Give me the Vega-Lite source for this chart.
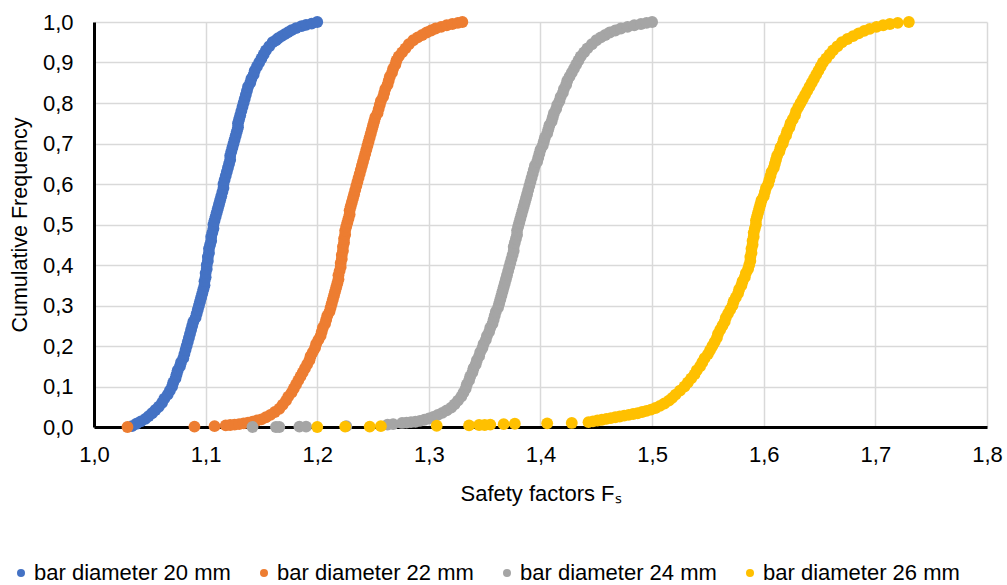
{
"$schema":"https://vega.github.io/schema/vega-lite/v6.json",
"autosize":"none",
"width":893,"height":405,
"padding":{"left":94,"top":22,"right":20,"bottom":158},
"background":"white",
"config":{"view":{"stroke":null},"font":"Liberation Sans"},
"data":{"values":[
{"s":20,"x":1.034,"y":0.002},{"s":20,"x":1.038,"y":0.008},{"s":20,"x":1.042,"y":0.014},{"s":20,"x":1.046,"y":0.02},{"s":20,"x":1.049,"y":0.027},{"s":20,"x":1.052,"y":0.034},{"s":20,"x":1.055,"y":0.042},{"s":20,"x":1.058,"y":0.05},{"s":20,"x":1.061,"y":0.06},{"s":20,"x":1.063,"y":0.07},{"s":20,"x":1.066,"y":0.08},{"s":20,"x":1.068,"y":0.09},{"s":20,"x":1.07,"y":0.1},{"s":20,"x":1.071,"y":0.11},{"s":20,"x":1.073,"y":0.12},{"s":20,"x":1.074,"y":0.13},{"s":20,"x":1.075,"y":0.14},{"s":20,"x":1.077,"y":0.15},{"s":20,"x":1.078,"y":0.16},{"s":20,"x":1.08,"y":0.17},{"s":20,"x":1.081,"y":0.18},{"s":20,"x":1.082,"y":0.19},{"s":20,"x":1.083,"y":0.2},{"s":20,"x":1.084,"y":0.21},{"s":20,"x":1.085,"y":0.22},{"s":20,"x":1.086,"y":0.23},{"s":20,"x":1.087,"y":0.24},{"s":20,"x":1.088,"y":0.25},{"s":20,"x":1.089,"y":0.26},{"s":20,"x":1.091,"y":0.27},{"s":20,"x":1.092,"y":0.28},{"s":20,"x":1.093,"y":0.29},{"s":20,"x":1.094,"y":0.3},{"s":20,"x":1.095,"y":0.31},{"s":20,"x":1.096,"y":0.32},{"s":20,"x":1.097,"y":0.33},{"s":20,"x":1.098,"y":0.34},{"s":20,"x":1.099,"y":0.35},{"s":20,"x":1.099,"y":0.36},{"s":20,"x":1.1,"y":0.37},{"s":20,"x":1.1,"y":0.38},{"s":20,"x":1.101,"y":0.39},{"s":20,"x":1.101,"y":0.4},{"s":20,"x":1.102,"y":0.41},{"s":20,"x":1.102,"y":0.42},{"s":20,"x":1.103,"y":0.43},{"s":20,"x":1.103,"y":0.44},{"s":20,"x":1.104,"y":0.45},{"s":20,"x":1.105,"y":0.46},{"s":20,"x":1.105,"y":0.47},{"s":20,"x":1.106,"y":0.48},{"s":20,"x":1.107,"y":0.49},{"s":20,"x":1.107,"y":0.5},{"s":20,"x":1.108,"y":0.51},{"s":20,"x":1.109,"y":0.52},{"s":20,"x":1.11,"y":0.53},{"s":20,"x":1.111,"y":0.54},{"s":20,"x":1.112,"y":0.55},{"s":20,"x":1.113,"y":0.56},{"s":20,"x":1.114,"y":0.57},{"s":20,"x":1.115,"y":0.58},{"s":20,"x":1.116,"y":0.59},{"s":20,"x":1.116,"y":0.6},{"s":20,"x":1.117,"y":0.61},{"s":20,"x":1.118,"y":0.62},{"s":20,"x":1.119,"y":0.63},{"s":20,"x":1.12,"y":0.64},{"s":20,"x":1.121,"y":0.65},{"s":20,"x":1.122,"y":0.66},{"s":20,"x":1.122,"y":0.67},{"s":20,"x":1.123,"y":0.68},{"s":20,"x":1.124,"y":0.69},{"s":20,"x":1.125,"y":0.7},{"s":20,"x":1.126,"y":0.71},{"s":20,"x":1.127,"y":0.72},{"s":20,"x":1.128,"y":0.73},{"s":20,"x":1.129,"y":0.74},{"s":20,"x":1.129,"y":0.75},{"s":20,"x":1.13,"y":0.76},{"s":20,"x":1.131,"y":0.77},{"s":20,"x":1.132,"y":0.78},{"s":20,"x":1.133,"y":0.79},{"s":20,"x":1.134,"y":0.8},{"s":20,"x":1.135,"y":0.81},{"s":20,"x":1.136,"y":0.82},{"s":20,"x":1.137,"y":0.83},{"s":20,"x":1.138,"y":0.84},{"s":20,"x":1.14,"y":0.85},{"s":20,"x":1.141,"y":0.86},{"s":20,"x":1.143,"y":0.87},{"s":20,"x":1.144,"y":0.88},{"s":20,"x":1.146,"y":0.89},{"s":20,"x":1.148,"y":0.9},{"s":20,"x":1.15,"y":0.91},{"s":20,"x":1.152,"y":0.92},{"s":20,"x":1.154,"y":0.93},{"s":20,"x":1.157,"y":0.94},{"s":20,"x":1.16,"y":0.95},{"s":20,"x":1.163,"y":0.955},{"s":20,"x":1.165,"y":0.96},{"s":20,"x":1.168,"y":0.965},{"s":20,"x":1.171,"y":0.97},{"s":20,"x":1.174,"y":0.975},{"s":20,"x":1.177,"y":0.98},{"s":20,"x":1.181,"y":0.985},{"s":20,"x":1.186,"y":0.99},{"s":20,"x":1.19,"y":0.993},{"s":20,"x":1.195,"y":0.996},{"s":20,"x":1.2,"y":1.0},
{"s":22,"x":1.03,"y":0.0},{"s":22,"x":1.09,"y":0.001},{"s":22,"x":1.108,"y":0.002},{"s":22,"x":1.118,"y":0.004},{"s":22,"x":1.122,"y":0.005},{"s":22,"x":1.126,"y":0.006},{"s":22,"x":1.13,"y":0.007},{"s":22,"x":1.134,"y":0.009},{"s":22,"x":1.138,"y":0.011},{"s":22,"x":1.142,"y":0.013},{"s":22,"x":1.146,"y":0.016},{"s":22,"x":1.15,"y":0.019},{"s":22,"x":1.154,"y":0.024},{"s":22,"x":1.158,"y":0.03},{"s":22,"x":1.162,"y":0.037},{"s":22,"x":1.166,"y":0.045},{"s":22,"x":1.169,"y":0.055},{"s":22,"x":1.172,"y":0.065},{"s":22,"x":1.174,"y":0.075},{"s":22,"x":1.177,"y":0.085},{"s":22,"x":1.179,"y":0.095},{"s":22,"x":1.181,"y":0.105},{"s":22,"x":1.183,"y":0.115},{"s":22,"x":1.185,"y":0.125},{"s":22,"x":1.187,"y":0.135},{"s":22,"x":1.189,"y":0.145},{"s":22,"x":1.191,"y":0.155},{"s":22,"x":1.193,"y":0.165},{"s":22,"x":1.194,"y":0.175},{"s":22,"x":1.196,"y":0.185},{"s":22,"x":1.198,"y":0.195},{"s":22,"x":1.199,"y":0.205},{"s":22,"x":1.201,"y":0.215},{"s":22,"x":1.203,"y":0.225},{"s":22,"x":1.204,"y":0.235},{"s":22,"x":1.205,"y":0.245},{"s":22,"x":1.207,"y":0.255},{"s":22,"x":1.208,"y":0.265},{"s":22,"x":1.209,"y":0.275},{"s":22,"x":1.211,"y":0.285},{"s":22,"x":1.212,"y":0.295},{"s":22,"x":1.213,"y":0.305},{"s":22,"x":1.214,"y":0.315},{"s":22,"x":1.215,"y":0.325},{"s":22,"x":1.216,"y":0.335},{"s":22,"x":1.217,"y":0.345},{"s":22,"x":1.218,"y":0.355},{"s":22,"x":1.219,"y":0.365},{"s":22,"x":1.219,"y":0.375},{"s":22,"x":1.22,"y":0.385},{"s":22,"x":1.221,"y":0.395},{"s":22,"x":1.221,"y":0.405},{"s":22,"x":1.222,"y":0.415},{"s":22,"x":1.222,"y":0.425},{"s":22,"x":1.223,"y":0.435},{"s":22,"x":1.223,"y":0.445},{"s":22,"x":1.224,"y":0.455},{"s":22,"x":1.224,"y":0.465},{"s":22,"x":1.225,"y":0.475},{"s":22,"x":1.225,"y":0.485},{"s":22,"x":1.226,"y":0.495},{"s":22,"x":1.227,"y":0.505},{"s":22,"x":1.228,"y":0.515},{"s":22,"x":1.229,"y":0.525},{"s":22,"x":1.229,"y":0.535},{"s":22,"x":1.23,"y":0.545},{"s":22,"x":1.231,"y":0.555},{"s":22,"x":1.232,"y":0.565},{"s":22,"x":1.233,"y":0.575},{"s":22,"x":1.234,"y":0.585},{"s":22,"x":1.235,"y":0.595},{"s":22,"x":1.236,"y":0.605},{"s":22,"x":1.237,"y":0.615},{"s":22,"x":1.238,"y":0.625},{"s":22,"x":1.239,"y":0.635},{"s":22,"x":1.24,"y":0.645},{"s":22,"x":1.241,"y":0.655},{"s":22,"x":1.242,"y":0.665},{"s":22,"x":1.243,"y":0.675},{"s":22,"x":1.244,"y":0.685},{"s":22,"x":1.245,"y":0.695},{"s":22,"x":1.246,"y":0.705},{"s":22,"x":1.247,"y":0.715},{"s":22,"x":1.248,"y":0.725},{"s":22,"x":1.249,"y":0.735},{"s":22,"x":1.25,"y":0.745},{"s":22,"x":1.251,"y":0.755},{"s":22,"x":1.252,"y":0.765},{"s":22,"x":1.254,"y":0.775},{"s":22,"x":1.255,"y":0.785},{"s":22,"x":1.256,"y":0.795},{"s":22,"x":1.257,"y":0.805},{"s":22,"x":1.259,"y":0.815},{"s":22,"x":1.26,"y":0.825},{"s":22,"x":1.261,"y":0.835},{"s":22,"x":1.263,"y":0.845},{"s":22,"x":1.264,"y":0.855},{"s":22,"x":1.265,"y":0.865},{"s":22,"x":1.267,"y":0.875},{"s":22,"x":1.268,"y":0.885},{"s":22,"x":1.27,"y":0.895},{"s":22,"x":1.271,"y":0.905},{"s":22,"x":1.273,"y":0.915},{"s":22,"x":1.276,"y":0.925},{"s":22,"x":1.279,"y":0.935},{"s":22,"x":1.282,"y":0.945},{"s":22,"x":1.286,"y":0.955},{"s":22,"x":1.29,"y":0.962},{"s":22,"x":1.294,"y":0.968},{"s":22,"x":1.298,"y":0.974},{"s":22,"x":1.302,"y":0.979},{"s":22,"x":1.306,"y":0.984},{"s":22,"x":1.311,"y":0.988},{"s":22,"x":1.316,"y":0.992},{"s":22,"x":1.321,"y":0.995},{"s":22,"x":1.326,"y":0.998},{"s":22,"x":1.33,"y":1.0},
{"s":24,"x":1.142,"y":0.0},{"s":24,"x":1.163,"y":0.0},{"s":24,"x":1.166,"y":0.0},{"s":24,"x":1.184,"y":0.001},{"s":24,"x":1.19,"y":0.001},{"s":24,"x":1.226,"y":0.002},{"s":24,"x":1.263,"y":0.006},{"s":24,"x":1.268,"y":0.007},{"s":24,"x":1.276,"y":0.01},{"s":24,"x":1.28,"y":0.011},{"s":24,"x":1.284,"y":0.012},{"s":24,"x":1.288,"y":0.013},{"s":24,"x":1.292,"y":0.015},{"s":24,"x":1.296,"y":0.018},{"s":24,"x":1.3,"y":0.021},{"s":24,"x":1.304,"y":0.025},{"s":24,"x":1.308,"y":0.03},{"s":24,"x":1.312,"y":0.035},{"s":24,"x":1.316,"y":0.041},{"s":24,"x":1.32,"y":0.048},{"s":24,"x":1.323,"y":0.056},{"s":24,"x":1.326,"y":0.065},{"s":24,"x":1.329,"y":0.075},{"s":24,"x":1.331,"y":0.085},{"s":24,"x":1.333,"y":0.095},{"s":24,"x":1.334,"y":0.105},{"s":24,"x":1.336,"y":0.115},{"s":24,"x":1.337,"y":0.125},{"s":24,"x":1.339,"y":0.135},{"s":24,"x":1.34,"y":0.145},{"s":24,"x":1.342,"y":0.155},{"s":24,"x":1.343,"y":0.165},{"s":24,"x":1.345,"y":0.175},{"s":24,"x":1.346,"y":0.185},{"s":24,"x":1.348,"y":0.195},{"s":24,"x":1.349,"y":0.205},{"s":24,"x":1.351,"y":0.215},{"s":24,"x":1.352,"y":0.225},{"s":24,"x":1.354,"y":0.235},{"s":24,"x":1.355,"y":0.245},{"s":24,"x":1.357,"y":0.255},{"s":24,"x":1.358,"y":0.265},{"s":24,"x":1.359,"y":0.275},{"s":24,"x":1.36,"y":0.285},{"s":24,"x":1.362,"y":0.295},{"s":24,"x":1.363,"y":0.305},{"s":24,"x":1.364,"y":0.315},{"s":24,"x":1.365,"y":0.325},{"s":24,"x":1.366,"y":0.335},{"s":24,"x":1.367,"y":0.345},{"s":24,"x":1.368,"y":0.355},{"s":24,"x":1.369,"y":0.365},{"s":24,"x":1.37,"y":0.375},{"s":24,"x":1.371,"y":0.385},{"s":24,"x":1.372,"y":0.395},{"s":24,"x":1.373,"y":0.405},{"s":24,"x":1.374,"y":0.415},{"s":24,"x":1.375,"y":0.425},{"s":24,"x":1.376,"y":0.435},{"s":24,"x":1.376,"y":0.445},{"s":24,"x":1.377,"y":0.455},{"s":24,"x":1.378,"y":0.465},{"s":24,"x":1.379,"y":0.475},{"s":24,"x":1.379,"y":0.485},{"s":24,"x":1.38,"y":0.495},{"s":24,"x":1.381,"y":0.505},{"s":24,"x":1.382,"y":0.515},{"s":24,"x":1.383,"y":0.525},{"s":24,"x":1.384,"y":0.535},{"s":24,"x":1.385,"y":0.545},{"s":24,"x":1.386,"y":0.555},{"s":24,"x":1.387,"y":0.565},{"s":24,"x":1.388,"y":0.575},{"s":24,"x":1.389,"y":0.585},{"s":24,"x":1.39,"y":0.595},{"s":24,"x":1.391,"y":0.605},{"s":24,"x":1.392,"y":0.615},{"s":24,"x":1.393,"y":0.625},{"s":24,"x":1.394,"y":0.635},{"s":24,"x":1.395,"y":0.645},{"s":24,"x":1.397,"y":0.655},{"s":24,"x":1.398,"y":0.665},{"s":24,"x":1.399,"y":0.675},{"s":24,"x":1.4,"y":0.685},{"s":24,"x":1.402,"y":0.695},{"s":24,"x":1.403,"y":0.705},{"s":24,"x":1.404,"y":0.715},{"s":24,"x":1.406,"y":0.725},{"s":24,"x":1.407,"y":0.735},{"s":24,"x":1.408,"y":0.745},{"s":24,"x":1.41,"y":0.755},{"s":24,"x":1.411,"y":0.765},{"s":24,"x":1.412,"y":0.775},{"s":24,"x":1.414,"y":0.785},{"s":24,"x":1.415,"y":0.795},{"s":24,"x":1.417,"y":0.805},{"s":24,"x":1.418,"y":0.815},{"s":24,"x":1.42,"y":0.825},{"s":24,"x":1.421,"y":0.835},{"s":24,"x":1.423,"y":0.845},{"s":24,"x":1.424,"y":0.855},{"s":24,"x":1.426,"y":0.865},{"s":24,"x":1.428,"y":0.875},{"s":24,"x":1.43,"y":0.885},{"s":24,"x":1.432,"y":0.895},{"s":24,"x":1.434,"y":0.905},{"s":24,"x":1.436,"y":0.915},{"s":24,"x":1.439,"y":0.925},{"s":24,"x":1.442,"y":0.935},{"s":24,"x":1.446,"y":0.945},{"s":24,"x":1.45,"y":0.955},{"s":24,"x":1.454,"y":0.962},{"s":24,"x":1.458,"y":0.968},{"s":24,"x":1.462,"y":0.974},{"s":24,"x":1.467,"y":0.979},{"s":24,"x":1.472,"y":0.984},{"s":24,"x":1.478,"y":0.988},{"s":24,"x":1.484,"y":0.992},{"s":24,"x":1.49,"y":0.995},{"s":24,"x":1.495,"y":0.998},{"s":24,"x":1.5,"y":1.0},
{"s":26,"x":1.2,"y":0.0},{"s":26,"x":1.225,"y":0.001},{"s":26,"x":1.247,"y":0.001},{"s":26,"x":1.257,"y":0.002},{"s":26,"x":1.307,"y":0.003},{"s":26,"x":1.336,"y":0.004},{"s":26,"x":1.345,"y":0.005},{"s":26,"x":1.35,"y":0.005},{"s":26,"x":1.355,"y":0.006},{"s":26,"x":1.367,"y":0.007},{"s":26,"x":1.377,"y":0.008},{"s":26,"x":1.406,"y":0.009},{"s":26,"x":1.428,"y":0.01},{"s":26,"x":1.443,"y":0.012},{"s":26,"x":1.447,"y":0.014},{"s":26,"x":1.451,"y":0.016},{"s":26,"x":1.455,"y":0.018},{"s":26,"x":1.459,"y":0.02},{"s":26,"x":1.463,"y":0.022},{"s":26,"x":1.467,"y":0.024},{"s":26,"x":1.471,"y":0.026},{"s":26,"x":1.475,"y":0.028},{"s":26,"x":1.479,"y":0.03},{"s":26,"x":1.483,"y":0.032},{"s":26,"x":1.487,"y":0.034},{"s":26,"x":1.491,"y":0.037},{"s":26,"x":1.495,"y":0.04},{"s":26,"x":1.499,"y":0.043},{"s":26,"x":1.503,"y":0.047},{"s":26,"x":1.507,"y":0.052},{"s":26,"x":1.511,"y":0.058},{"s":26,"x":1.515,"y":0.065},{"s":26,"x":1.518,"y":0.072},{"s":26,"x":1.521,"y":0.08},{"s":26,"x":1.525,"y":0.09},{"s":26,"x":1.529,"y":0.1},{"s":26,"x":1.532,"y":0.11},{"s":26,"x":1.535,"y":0.12},{"s":26,"x":1.538,"y":0.13},{"s":26,"x":1.54,"y":0.14},{"s":26,"x":1.543,"y":0.15},{"s":26,"x":1.545,"y":0.16},{"s":26,"x":1.547,"y":0.17},{"s":26,"x":1.55,"y":0.18},{"s":26,"x":1.552,"y":0.19},{"s":26,"x":1.554,"y":0.2},{"s":26,"x":1.556,"y":0.21},{"s":26,"x":1.558,"y":0.22},{"s":26,"x":1.559,"y":0.23},{"s":26,"x":1.561,"y":0.24},{"s":26,"x":1.563,"y":0.25},{"s":26,"x":1.565,"y":0.26},{"s":26,"x":1.566,"y":0.27},{"s":26,"x":1.568,"y":0.28},{"s":26,"x":1.57,"y":0.29},{"s":26,"x":1.572,"y":0.3},{"s":26,"x":1.573,"y":0.31},{"s":26,"x":1.575,"y":0.32},{"s":26,"x":1.577,"y":0.33},{"s":26,"x":1.578,"y":0.34},{"s":26,"x":1.58,"y":0.35},{"s":26,"x":1.581,"y":0.36},{"s":26,"x":1.583,"y":0.37},{"s":26,"x":1.584,"y":0.38},{"s":26,"x":1.586,"y":0.39},{"s":26,"x":1.587,"y":0.4},{"s":26,"x":1.588,"y":0.41},{"s":26,"x":1.588,"y":0.42},{"s":26,"x":1.589,"y":0.43},{"s":26,"x":1.589,"y":0.44},{"s":26,"x":1.59,"y":0.45},{"s":26,"x":1.59,"y":0.46},{"s":26,"x":1.591,"y":0.47},{"s":26,"x":1.591,"y":0.48},{"s":26,"x":1.592,"y":0.49},{"s":26,"x":1.593,"y":0.5},{"s":26,"x":1.593,"y":0.51},{"s":26,"x":1.594,"y":0.52},{"s":26,"x":1.595,"y":0.53},{"s":26,"x":1.596,"y":0.54},{"s":26,"x":1.597,"y":0.55},{"s":26,"x":1.598,"y":0.56},{"s":26,"x":1.6,"y":0.57},{"s":26,"x":1.601,"y":0.58},{"s":26,"x":1.602,"y":0.59},{"s":26,"x":1.604,"y":0.6},{"s":26,"x":1.605,"y":0.61},{"s":26,"x":1.606,"y":0.62},{"s":26,"x":1.607,"y":0.63},{"s":26,"x":1.609,"y":0.64},{"s":26,"x":1.61,"y":0.65},{"s":26,"x":1.611,"y":0.66},{"s":26,"x":1.612,"y":0.67},{"s":26,"x":1.614,"y":0.68},{"s":26,"x":1.615,"y":0.69},{"s":26,"x":1.617,"y":0.7},{"s":26,"x":1.618,"y":0.71},{"s":26,"x":1.62,"y":0.72},{"s":26,"x":1.621,"y":0.73},{"s":26,"x":1.623,"y":0.74},{"s":26,"x":1.624,"y":0.75},{"s":26,"x":1.626,"y":0.76},{"s":26,"x":1.628,"y":0.77},{"s":26,"x":1.629,"y":0.78},{"s":26,"x":1.631,"y":0.79},{"s":26,"x":1.633,"y":0.8},{"s":26,"x":1.635,"y":0.81},{"s":26,"x":1.637,"y":0.82},{"s":26,"x":1.639,"y":0.83},{"s":26,"x":1.641,"y":0.84},{"s":26,"x":1.643,"y":0.85},{"s":26,"x":1.645,"y":0.86},{"s":26,"x":1.647,"y":0.87},{"s":26,"x":1.649,"y":0.88},{"s":26,"x":1.651,"y":0.89},{"s":26,"x":1.653,"y":0.9},{"s":26,"x":1.656,"y":0.91},{"s":26,"x":1.659,"y":0.92},{"s":26,"x":1.662,"y":0.93},{"s":26,"x":1.666,"y":0.94},{"s":26,"x":1.67,"y":0.95},{"s":26,"x":1.675,"y":0.958},{"s":26,"x":1.68,"y":0.965},{"s":26,"x":1.685,"y":0.972},{"s":26,"x":1.69,"y":0.978},{"s":26,"x":1.695,"y":0.983},{"s":26,"x":1.701,"y":0.988},{"s":26,"x":1.707,"y":0.992},{"s":26,"x":1.713,"y":0.995},{"s":26,"x":1.72,"y":0.998},{"s":26,"x":1.73,"y":1.0}
]},
"mark":{"type":"point","filled":true,"shape":"circle","size":140,"opacity":1,"strokeWidth":0},
"encoding":{
"x":{"field":"x","type":"quantitative","scale":{"domain":[1.0,1.8],"nice":false,"zero":false},
"axis":{"title":"Safety factors Fₛ","values":[1.0,1.1,1.2,1.3,1.4,1.5,1.6,1.7,1.8],"labelExpr":"replace(format(datum.value,'.1f'),'.',',')","domainColor":"#000","domainWidth":3,"ticks":false,"tickSize":0,"labelPadding":17,"labelFont":"Liberation Sans","labelFontSize":22,"labelColor":"#000","labelFlush":false,"labelOverlap":false,"gridColor":"#d9d9d9","gridWidth":1.5,"titleFont":"Liberation Sans","titleFontSize":22,"titleFontWeight":"normal","titleColor":"#000","titleY":73,"titleBaseline":"alphabetic"}},
"y":{"field":"y","type":"quantitative","scale":{"domain":[0,1],"nice":false},
"axis":{"title":"Cumulative Frequency","values":[0,0.1,0.2,0.3,0.4,0.5,0.6,0.7,0.8,0.9,1.0],"labelExpr":"replace(format(datum.value,'.1f'),'.',',')","domainColor":"#000","domainWidth":3,"ticks":false,"tickSize":0,"labelPadding":21,"labelFont":"Liberation Sans","labelFontSize":22,"labelColor":"#000","labelFlush":false,"labelOverlap":false,"gridColor":"#d9d9d9","gridWidth":1.5,"titleFont":"Liberation Sans","titleFontSize":21.5,"titleFontWeight":"normal","titleColor":"#000","titleX":-68,"titleY":202.5,"titleAngle":-90,"titleBaseline":"alphabetic","titleAlign":"center"}},
"color":{"field":"s","type":"nominal","scale":{"domain":[20,22,24,26],"range":["#4472C4","#ED7D31","#A5A5A5","#FFC000"]},
"legend":{"orient":"none","legendX":-84,"legendY":540,"direction":"horizontal","columns":4,"title":null,"symbolType":"circle","symbolSize":64,"symbolStrokeWidth":0,"labelFont":"Liberation Sans","labelFontSize":22,"labelColor":"#000","labelOffset":2,"labelLimit":400,"columnPadding":22,"labelExpr":"'bar diameter ' + datum.label + ' mm'"}}
}
}
